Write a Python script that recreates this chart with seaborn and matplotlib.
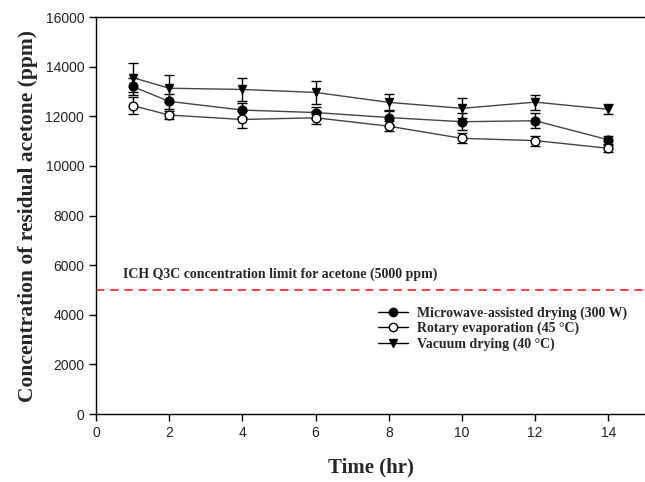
import numpy as np
import pandas as pd
import matplotlib
matplotlib.use("Agg")
import matplotlib.pyplot as plt
import seaborn as sns

# Drying time points (hr)
time_hr = [1, 2, 4, 6, 8, 10, 12, 14]

# Residual acetone (ppm), mean and error for each drying method
microwave = [13200, 12600, 12250, 12150, 11950, 11780, 11820, 11050]
microwave_err = [330, 300, 280, 240, 300, 340, 300, 160]
rotary = [12430, 12050, 11870, 11940, 11600, 11110, 11020, 10710]
rotary_err = [350, 160, 360, 270, 200, 200, 200, 140]
vacuum = [13560, 13130, 13080, 12960, 12560, 12320, 12570, 12280]
vacuum_err = [600, 540, 470, 470, 350, 400, 300, 200]

labels = ["Microwave-assisted drying (300 W)",
          "Rotary evaporation (45 \u00b0C)",
          "Vacuum drying (40 \u00b0C)"]
limit_ppm = 5000
limit_text = "ICH Q3C concentration limit for acetone (5000 ppm)"

sns.set_theme(style="ticks")
plt.rcParams["font.family"] = ["Liberation Sans", "DejaVu Sans"]

df = pd.DataFrame({
    "time": time_hr * 3,
    "ppm": microwave + rotary + vacuum,
    "method": [labels[0]] * 8 + [labels[1]] * 8 + [labels[2]] * 8,
})
errs = {labels[0]: microwave_err, labels[1]: rotary_err, labels[2]: vacuum_err}

fig = plt.figure(figsize=(6.45, 4.82), dpi=100)
ax = fig.add_axes([0.1488, 0.141, 0.8512, 0.8237])

styles = {
    labels[0]: dict(marker="o", mfc="black"),
    labels[1]: dict(marker="o", mfc="white"),
    labels[2]: dict(marker="v", mfc="black"),
}

# error bars underneath the series lines
for lab in labels:
    sub = df[df["method"] == lab]
    ax.errorbar(sub["time"], sub["ppm"], yerr=errs[lab], fmt="none",
                ecolor="black", elinewidth=1.0, capsize=3.8, capthick=1.0,
                zorder=2)

sns.lineplot(data=df, x="time", y="ppm", hue="method", style="method",
             palette={l: "#444444" for l in labels},
             markers={l: styles[l]["marker"] for l in labels},
             dashes=False, linewidth=1.0, markersize=6.3,
             legend=False, ax=ax, zorder=3)

# marker faces / edges per series
for line, lab in zip(ax.get_lines()[-3:], labels):
    line.set_markerfacecolor(styles[lab]["mfc"])
    line.set_markeredgecolor("black")
    line.set_markeredgewidth(1.0)

# regulatory limit
ax.axhline(limit_ppm, color="#ff2020", linestyle=(0, (5, 3.5)), linewidth=1.2,
           zorder=1)
ax.text(0.75, limit_ppm + 350, limit_text, fontsize=10, fontweight="bold",
        family=["Liberation Serif"], ha="left", va="bottom")

# legend
handles = []
for lab in labels:
    h, = ax.plot([], [], color="black", linewidth=1.0,
                 marker=styles[lab]["marker"], markersize=6,
                 markerfacecolor=styles[lab]["mfc"], markeredgecolor="black")
    handles.append(h)
leg = ax.legend(handles, labels, loc="upper left",
                bbox_to_anchor=(0.503, 0.285), frameon=False,
                prop={"family": "Liberation Serif", "weight": "bold", "size": 10},
                handlelength=2.2, handletextpad=0.6, labelspacing=0.15,
                borderaxespad=0)

ax.set_xlim(0, 15)
ax.set_ylim(0, 16000)
ax.set_xticks(range(0, 15, 2))
ax.set_yticks(range(0, 16001, 2000))
ax.tick_params(axis="both", direction="out", length=5, width=1,
               labelsize=10, color="black", labelcolor="#222222")
ax.set_xlabel("Time (hr)", fontsize=15, fontweight="bold",
              family=["Liberation Serif"], labelpad=13)
ax.set_ylabel("Concentration of residual acetone (ppm)", fontsize=15.5,
              fontweight="bold", family=["Liberation Serif"], labelpad=5)

for side in ["left", "bottom", "top"]:
    ax.spines[side].set_color("black")
    ax.spines[side].set_linewidth(1.0)
ax.spines["right"].set_visible(False)

fig.savefig("out.png", dpi=100)
